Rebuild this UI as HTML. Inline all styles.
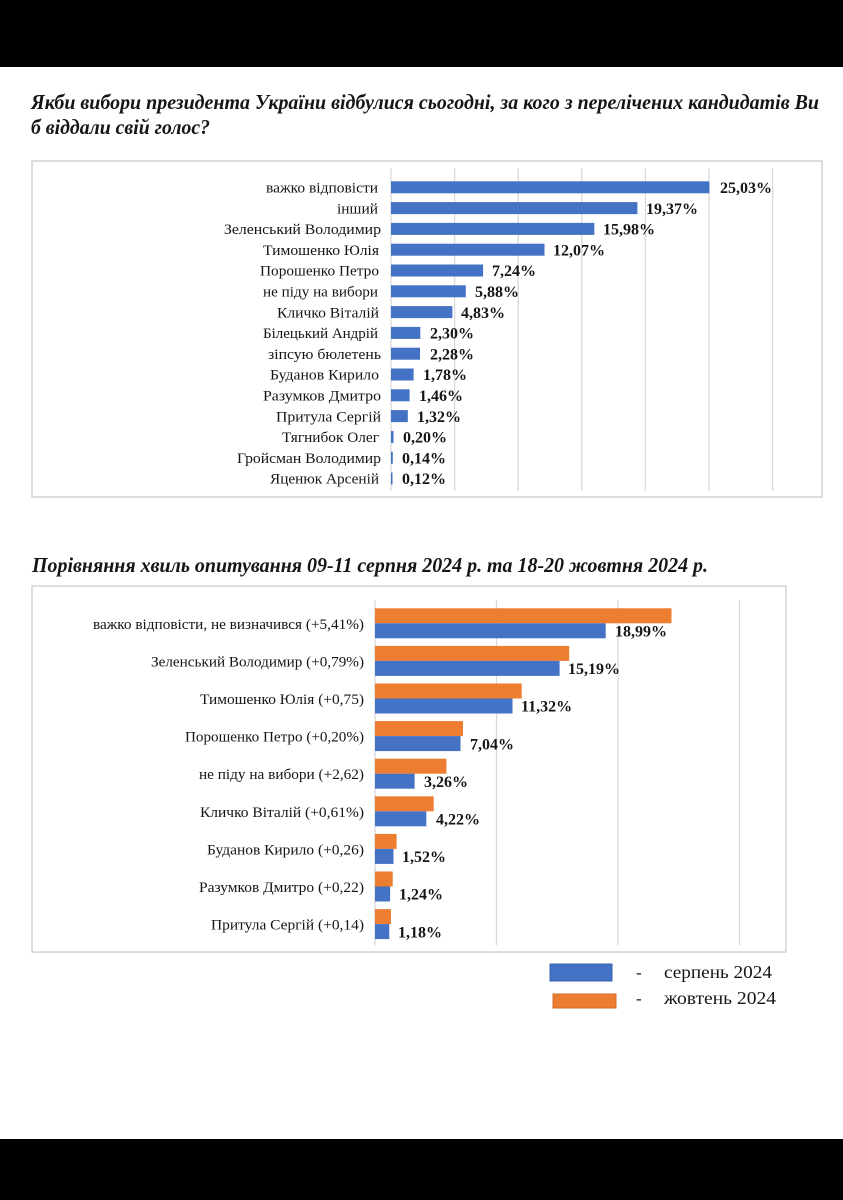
<!DOCTYPE html>
<html><head><meta charset="utf-8"><style>
html,body{margin:0;padding:0;background:#fff;}
svg{display:block;}
text{font-family:"Liberation Serif","DejaVu Serif",serif;fill:#151515;}
.t{font-weight:bold;font-style:italic;font-size:21px;}
.l{font-size:15px;}
.v{font-weight:bold;font-size:16px;}
.g{stroke:#d9d9d9;stroke-width:1.3;}
</style></head><body>
<svg width="843" height="1200" viewBox="0 0 843 1200" xmlns="http://www.w3.org/2000/svg">
<rect x="0" y="0" width="843" height="1200" fill="#fff"/>
<rect x="0" y="0" width="843" height="67" fill="#000"/>
<rect x="0" y="1139" width="843" height="61" fill="#000"/>

<!-- Title 1 -->
<text class="t" x="31" y="109" textLength="788" lengthAdjust="spacingAndGlyphs">Якби вибори президента України відбулися  сьогодні, за кого з перелічених кандидатів Ви</text>
<text class="t" x="31" y="134" textLength="179" lengthAdjust="spacingAndGlyphs">б віддали свій голос?</text>

<!-- Top chart box -->
<rect x="32" y="161" width="790" height="336" fill="none" stroke="#d2d2d2" stroke-width="1.5"/>
<g class="g">
<line x1="391" y1="168" x2="391" y2="491"/>
<line x1="454.6" y1="168" x2="454.6" y2="491"/>
<line x1="518.2" y1="168" x2="518.2" y2="491"/>
<line x1="581.8" y1="168" x2="581.8" y2="491"/>
<line x1="645.4" y1="168" x2="645.4" y2="491"/>
<line x1="709" y1="168" x2="709" y2="491"/>
<line x1="772.6" y1="168" x2="772.6" y2="491"/>
</g>
<g fill="#4472c4">
<rect x="391" y="181.3" width="318.4" height="12"/>
<rect x="391" y="202.1" width="246.4" height="12"/>
<rect x="391" y="222.9" width="203.3" height="12"/>
<rect x="391" y="243.7" width="153.5" height="12"/>
<rect x="391" y="264.5" width="92.1" height="12"/>
<rect x="391" y="285.3" width="74.8" height="12"/>
<rect x="391" y="306.1" width="61.4" height="12"/>
<rect x="391" y="326.9" width="29.3" height="12"/>
<rect x="391" y="347.7" width="29.0" height="12"/>
<rect x="391" y="368.5" width="22.6" height="12"/>
<rect x="391" y="389.3" width="18.6" height="12"/>
<rect x="391" y="410.1" width="16.8" height="12"/>
<rect x="391" y="430.9" width="2.5" height="12"/>
<rect x="391" y="451.7" width="1.8" height="12"/>
<rect x="391" y="472.5" width="1.5" height="12"/>
</g>
<g class="l" text-anchor="end">
<text x="378" y="192.5" textLength="112" lengthAdjust="spacingAndGlyphs">важко відповісти</text>
<text x="378" y="213.3" textLength="41" lengthAdjust="spacingAndGlyphs">інший</text>
<text x="381" y="234.1" textLength="157" lengthAdjust="spacingAndGlyphs">Зеленський Володимир</text>
<text x="379" y="254.9" textLength="116" lengthAdjust="spacingAndGlyphs">Тимошенко Юлія</text>
<text x="379" y="275.7" textLength="119" lengthAdjust="spacingAndGlyphs">Порошенко Петро</text>
<text x="378" y="296.5" textLength="115" lengthAdjust="spacingAndGlyphs">не піду на вибори</text>
<text x="379" y="317.3" textLength="102" lengthAdjust="spacingAndGlyphs">Кличко Віталій</text>
<text x="378" y="338.1" textLength="115" lengthAdjust="spacingAndGlyphs">Білецький Андрій</text>
<text x="381" y="358.9" textLength="113" lengthAdjust="spacingAndGlyphs">зіпсую бюлетень</text>
<text x="379" y="379.7" textLength="109" lengthAdjust="spacingAndGlyphs">Буданов Кирило</text>
<text x="381" y="400.5" textLength="118" lengthAdjust="spacingAndGlyphs">Разумков Дмитро</text>
<text x="381" y="421.3" textLength="105" lengthAdjust="spacingAndGlyphs">Притула Сергій</text>
<text x="379" y="442.1" textLength="97" lengthAdjust="spacingAndGlyphs">Тягнибок Олег</text>
<text x="381" y="462.9" textLength="144" lengthAdjust="spacingAndGlyphs">Гройсман Володимир</text>
<text x="379" y="483.7" textLength="109" lengthAdjust="spacingAndGlyphs">Яценюк Арсеній</text>
</g>
<g class="v">
<text x="720" y="193">25,03%</text>
<text x="646" y="213.8">19,37%</text>
<text x="603" y="234.6">15,98%</text>
<text x="553" y="255.4">12,07%</text>
<text x="492" y="276.2">7,24%</text>
<text x="475" y="297">5,88%</text>
<text x="461" y="317.8">4,83%</text>
<text x="430" y="338.6">2,30%</text>
<text x="430" y="359.4">2,28%</text>
<text x="423" y="380.2">1,78%</text>
<text x="419" y="401">1,46%</text>
<text x="417" y="421.8">1,32%</text>
<text x="403" y="442.6">0,20%</text>
<text x="402" y="463.4">0,14%</text>
<text x="402" y="484.2">0,12%</text>
</g>

<!-- Title 2 -->
<text class="t" x="32" y="572" textLength="676" lengthAdjust="spacingAndGlyphs">Порівняння хвиль опитування 09-11 серпня 2024 р. та 18-20 жовтня  2024 р.</text>

<!-- Bottom chart box -->
<rect x="32" y="586" width="754" height="366" fill="none" stroke="#d2d2d2" stroke-width="1.5"/>
<g class="g">
<line x1="375" y1="600" x2="375" y2="945"/>
<line x1="496.5" y1="600" x2="496.5" y2="945"/>
<line x1="618" y1="600" x2="618" y2="945"/>
<line x1="739.5" y1="600" x2="739.5" y2="945"/>
</g>
<g fill="#ed7d31">
<rect x="375" y="608.3" width="296.5" height="15"/>
<rect x="375" y="645.9" width="194.2" height="15"/>
<rect x="375" y="683.5" width="146.7" height="15"/>
<rect x="375" y="721.1" width="88" height="15"/>
<rect x="375" y="758.7" width="71.4" height="15"/>
<rect x="375" y="796.3" width="58.7" height="15"/>
<rect x="375" y="833.9" width="21.6" height="15"/>
<rect x="375" y="871.5" width="17.7" height="15"/>
<rect x="375" y="909.1" width="16" height="15"/>
</g>
<g fill="#4472c4">
<rect x="375" y="623.3" width="230.7" height="15"/>
<rect x="375" y="660.9" width="184.6" height="15"/>
<rect x="375" y="698.5" width="137.5" height="15"/>
<rect x="375" y="736.1" width="85.5" height="15"/>
<rect x="375" y="773.7" width="39.6" height="15"/>
<rect x="375" y="811.3" width="51.3" height="15"/>
<rect x="375" y="848.9" width="18.5" height="15"/>
<rect x="375" y="886.5" width="15.1" height="15"/>
<rect x="375" y="924.1" width="14.3" height="15"/>
</g>
<g class="l" text-anchor="end">
<text x="364" y="628.8" textLength="271" lengthAdjust="spacingAndGlyphs">важко відповісти, не визначився (+5,41%)</text>
<text x="364" y="666.4" textLength="213" lengthAdjust="spacingAndGlyphs">Зеленський Володимир (+0,79%)</text>
<text x="364" y="704" textLength="164" lengthAdjust="spacingAndGlyphs">Тимошенко Юлія (+0,75)</text>
<text x="364" y="741.6" textLength="179" lengthAdjust="spacingAndGlyphs">Порошенко Петро (+0,20%)</text>
<text x="364" y="779.2" textLength="165" lengthAdjust="spacingAndGlyphs">не піду на вибори (+2,62)</text>
<text x="364" y="816.8" textLength="164" lengthAdjust="spacingAndGlyphs">Кличко Віталій (+0,61%)</text>
<text x="364" y="854.4" textLength="157" lengthAdjust="spacingAndGlyphs">Буданов Кирило (+0,26)</text>
<text x="364" y="892" textLength="165" lengthAdjust="spacingAndGlyphs">Разумков Дмитро (+0,22)</text>
<text x="364" y="929.6" textLength="153" lengthAdjust="spacingAndGlyphs">Притула Сергій (+0,14)</text>
</g>
<g class="v">
<text x="615" y="636.5">18,99%</text>
<text x="568" y="674.1">15,19%</text>
<text x="521" y="711.7">11,32%</text>
<text x="470" y="749.3">7,04%</text>
<text x="424" y="786.9">3,26%</text>
<text x="436" y="824.5">4,22%</text>
<text x="402" y="862.1">1,52%</text>
<text x="399" y="899.7">1,24%</text>
<text x="398" y="937.3">1,18%</text>
</g>

<!-- Legend -->
<rect x="550" y="964" width="62" height="17" fill="#4472c4" stroke="#3a62aa" stroke-width="1"/>
<rect x="553" y="994" width="63" height="14" fill="#ed7d31" stroke="#d36d28" stroke-width="1"/>
<text x="636" y="978" style="font-size:17px">-</text>
<text x="636" y="1004" style="font-size:17px">-</text>
<text x="664" y="978" style="font-size:18px" textLength="108" lengthAdjust="spacingAndGlyphs">серпень 2024</text>
<text x="664" y="1004" style="font-size:18px" textLength="112" lengthAdjust="spacingAndGlyphs">жовтень 2024</text>
</svg>
</body></html>
